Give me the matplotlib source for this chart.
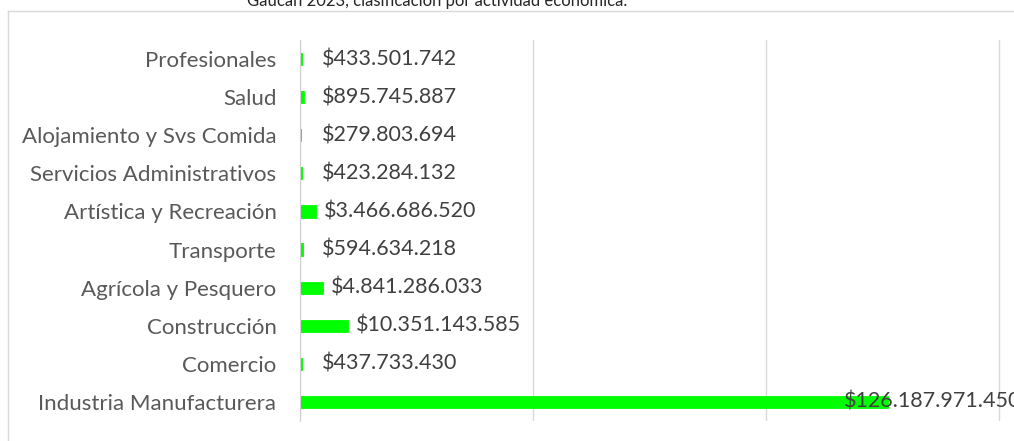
import matplotlib.pyplot as plt
from matplotlib.ticker import MultipleLocator

plt.rcParams['font.family'] = ['Lato', 'DejaVu Sans']

categorias = ['Industria Manufacturera', 'Comercio', 'Construcción', 'Agrícola y Pesquero',
              'Transporte', 'Artística y Recreación', 'Servicios Administrativos',
              'Alojamiento y Svs Comida', 'Salud', 'Profesionales']
valores = [126187971450, 437733430, 10351143585, 4841286033, 594634218,
           3466686520, 423284132, 279803694, 895745887, 433501742]
etiquetas = ['$126.187.971.450', '$437.733.430', '$10.351.143.585', '$4.841.286.033',
             '$594.634.218', '$3.466.686.520', '$423.284.132', '$279.803.694',
             '$895.745.887', '$433.501.742']

W, H = 1014, 441
fig = plt.figure(figsize=(W / 100, H / 100), dpi=100)

# marco del gráfico (recortado)
fig.add_artist(plt.Line2D([8 / W, 8 / W], [0, 1 - 11 / H], color='#D9D9D9', lw=1))
fig.add_artist(plt.Line2D([8 / W, 1], [1 - 11 / H, 1 - 11 / H], color='#D9D9D9', lw=1))
fig.text(437 / W, 1 - 6 / H, 'Gaucán 2023, clasificación por actividad económica.',
         ha='center', va='baseline', fontsize=12, color='#262626')

ax = fig.add_axes([300 / W, 1 - 421 / H, (W - 300) / W, 381 / H])
y = range(len(categorias))
ax.barh(y, valores, height=0.32, color='#00FF00', edgecolor='#00FF00', lw=0.6)
ax.set_xlim(0, 150e9 * (W - 300) / 699)
ax.set_ylim(-0.5, len(categorias) - 0.5)
ax.xaxis.set_major_locator(MultipleLocator(50e9))
ax.grid(axis='x', color='#D9D9D9', lw=1)
ax.set_axisbelow(True)
for s in ['top', 'right', 'bottom']:
    ax.spines[s].set_visible(False)
ax.spines['left'].set_color('#D0D0D0')
ax.set_xticklabels([])
ax.tick_params(axis='x', length=0)
ax.tick_params(axis='y', length=0, pad=17)
ax.set_yticks(list(y))
ax.set_yticklabels(categorias, fontsize=16, color='#595959')

px = 150e9 / 699
for i, (v, t) in enumerate(zip(valores, etiquetas)):
    x = max(v + 8 * px, 22 * px)
    if v > 100e9:
        x = v - 44 * px
    ax.text(x, i, t, va='center', ha='left', fontsize=15.5, color='#404040')

fig.savefig('out.png', dpi=100)
